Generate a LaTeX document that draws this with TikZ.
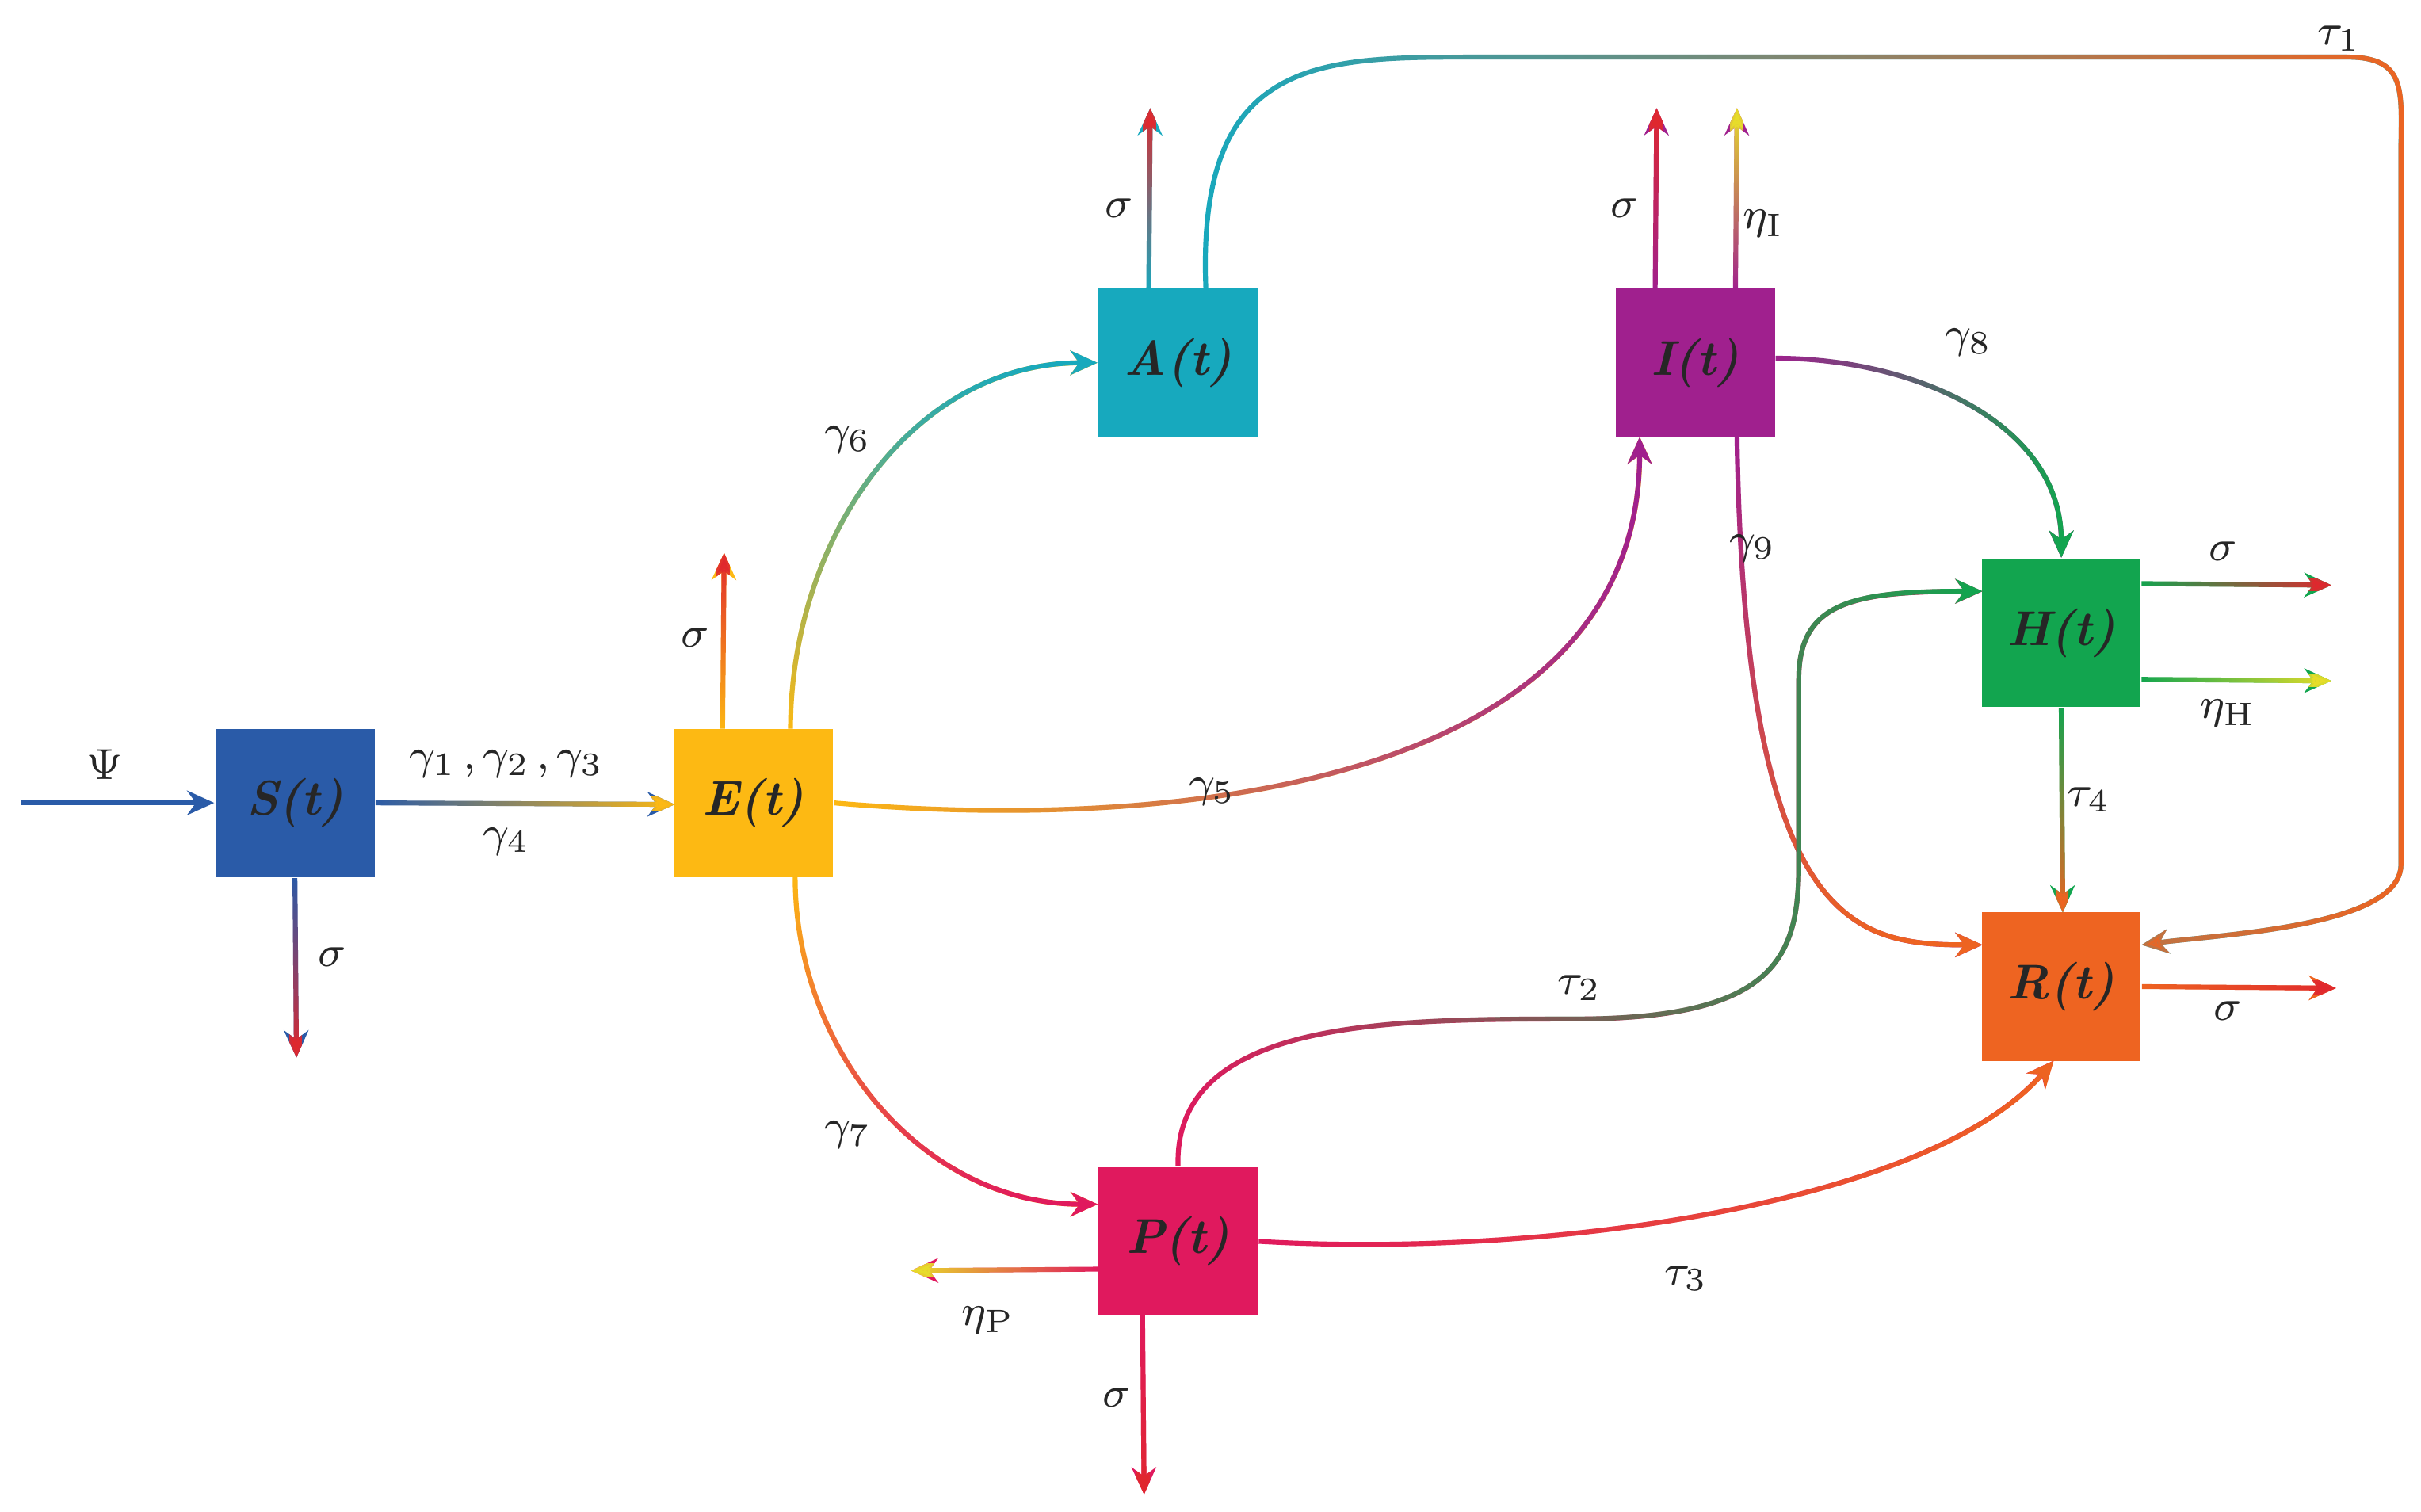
\documentclass[tikz,border=0pt]{standalone}
\usetikzlibrary{arrows.meta,fadings}
\definecolor{cS}{HTML}{2A5BA8}
\definecolor{cE}{HTML}{FDB913}
\definecolor{cA}{HTML}{17A9BE}
\definecolor{cI}{HTML}{A0208E}
\definecolor{cH}{HTML}{12A54F}
\definecolor{cR}{HTML}{EE6421}
\definecolor{cP}{HTML}{E0195E}
\definecolor{cRed}{HTML}{E0282E}
\definecolor{cYel}{HTML}{E8DE2A}
\newcommand\gl[4]{\draw[ln,#1] #4; \draw[ln,#2,path fading=#3] #4;}
\begin{document}
\begin{tikzpicture}[x=0.01cm,y=-0.01cm,
  box/.style={draw=none,minimum width=1.03cm,minimum height=0.96cm,inner sep=0,font=\fontsize{9}{10}\selectfont\bfseries\itshape,text=black!85},
  ln/.style={line width=0.9pt,-{Stealth[length=5pt,width=4.5pt]}},
  lb/.style={font=\fontsize{8}{9}\selectfont,text=black!85}]
\useasboundingbox (0,0) rectangle (1568,979);
\node[box,fill=cS] (S) at (191,520) {S(t)};
\node[box,fill=cE] (E) at (488,520) {E(t)};
\node[box,fill=cA] (A) at (763,235) {A(t)};
\node[box,fill=cI] (I) at (1098,235) {I(t)};
\node[box,fill=cH] (H) at (1335,410) {H(t)};
\node[box,fill=cR] (R) at (1335,639) {R(t)};
\node[box,fill=cP] (P) at (763,804) {P(t)};
\coordinate (in) at (14,520);
\coordinate (Ss) at (192,685);
\coordinate (Es) at (469,358);
\coordinate (As) at (745,70);
\coordinate (Is) at (1073,70);
\coordinate (Ie) at (1125,70);
\coordinate (Hs) at (1510,379);
\coordinate (He) at (1510,441);
\coordinate (Rs) at (1513,640);
\coordinate (Pe) at (590,823);
\coordinate (Ps) at (741,968);
\coordinate (Rn) at (1336,591);
\coordinate (Ew) at (437,521);
% connectors
\draw[ln,cS] (in) -- (S.west);
\gl{cS}{cE}{west}{(S.east) -- (Ew)}
\gl{cS}{cRed}{north}{(S.south) -- (Ss)}
\gl{cE}{cRed}{south}{(468,472) -- (Es)}
\gl{cE}{cA}{south}{(512,472) to[out=90,in=180] (A.west)}
\gl{cE}{cI}{west}{(E.east) to[out=-5,in=-90] (1062,283)}
\gl{cE}{cP}{north}{(515,568) to[out=-90,in=180] (711,780)}
\gl{cA}{cRed}{south}{(744,187) -- (As)}
\gl{cA}{cR}{west}{(781,187) .. controls (775,40) and (850,37) .. (950,37) -- (1520,37) .. controls (1560,37) and (1555,60) .. (1555,100) -- (1555,560) .. controls (1555,600) and (1440,605) .. (1387,612)}
\gl{cI}{cRed}{south}{(1072,187) -- (Is)}
\gl{cI}{cYel}{south}{(1124,187) -- (Ie)}
\gl{cI}{cH}{west}{(1150,232) to[out=0,in=90] (H.north)}
\gl{cI}{cR}{north}{(1125,283) .. controls (1130,600) and (1200,612) .. (1284,612)}
\gl{cH}{cRed}{west}{(1387,378) -- (Hs)}
\gl{cH}{cYel}{west}{(1387,440) -- (He)}
\gl{cH}{cR}{north}{(H.south) -- (Rn)}
\gl{cP}{cH}{west}{(P.north) .. controls (760,660) and (900,660) .. (1020,660) .. controls (1150,660) and (1165,620) .. (1165,560) -- (1165,440) .. controls (1165,390) and (1200,383) .. (1284,383)}
\gl{cP}{cR}{west}{(P.east) .. controls (1000,815) and (1250,780) .. (1330,687)}
\gl{cP}{cYel}{east}{(711,822) -- (Pe)}
\gl{cP}{cRed}{north}{(740,852) -- (Ps)}
\gl{cR}{cRed}{west}{(R.east) -- (Rs)}
% labels
\node[lb] at (68,495) {$\Psi$};
\node[lb] at (328,495) {$\gamma_1$\,,\,$\gamma_2$\,,\,$\gamma_3$};
\node[lb] at (328,545) {$\gamma_4$};
\node[lb] at (215,620) {$\sigma$};
\node[lb] at (450,413) {$\sigma$};
\node[lb] at (549,285) {$\gamma_6$};
\node[lb] at (785,513) {$\gamma_5$};
\node[lb] at (549,735) {$\gamma_7$};
\node[lb] at (725,135) {$\sigma$};
\node[lb] at (1515,25) {$\tau_1$};
\node[lb] at (1052,135) {$\sigma$};
\node[lb] at (1142,145) {$\eta_{\mathrm{I}}$};
\node[lb] at (1275,222) {$\gamma_8$};
\node[lb] at (1135,355) {$\gamma_9$};
\node[lb] at (1440,357) {$\sigma$};
\node[lb] at (1443,462) {$\eta_{\mathrm{H}}$};
\node[lb] at (1353,518) {$\tau_4$};
\node[lb] at (1023,640) {$\tau_2$};
\node[lb] at (1092,828) {$\tau_3$};
\node[lb] at (640,855) {$\eta_{\mathrm{P}}$};
\node[lb] at (723,905) {$\sigma$};
\node[lb] at (1443,655) {$\sigma$};
\end{tikzpicture}
\end{document}
